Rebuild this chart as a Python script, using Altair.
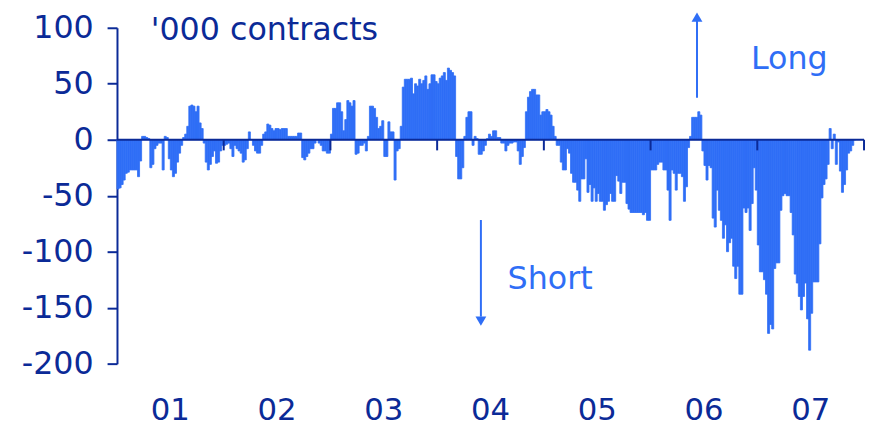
import altair as alt
import pandas as pd

BAR = "#2F6EF6"
NAVY = "#0B2A97"
FONT = "DejaVu Sans"
FS = 32

years = [2001, 2002, 2003, 2004, 2005, 2006, 2007]

y2001 = [-44, -43, -40, -36, -30, -29, -27, -27, -27, -27, -33, -19, 3, 3, 2, 1, -25, -22, -8, -5,
         -3, -3, -27, 3, 2, -17, -27, -33, -30, -20, -12, -5, 2, 5, 12, 30, 31, 30, 25, 30,
         15, 10, -3, -20, -27, -22, -15, -10, -21, -20, -10, -5]
y2002 = [-5, -4, -3, -8, -15, -5, -8, -10, -12, -20, -18, -8, 7, 0, -5, -10, -12, -12, -5, 5,
         7, 14, 13, 10, 8, 10, 10, 9, 10, 10, 10, 3, 3, 3, 3, 3, 6, 6, -16, -18,
         -15, -12, -8, -8, -3, 0, -3, -5, -10, -10, -12, -12]
y2003 = [5, 28, 28, 33, 33, 25, 8, 18, 35, 33, 30, 35, -13, -12, -5, -5, -3, -10, 3, 30,
         30, 28, 20, 10, 12, 17, -15, -15, 16, 7, 7, -36, -10, -8, 12, 47, 54, 54, 54, 55,
         41, 50, 48, 54, 50, 53, 57, 45, 50, 58, 58, 52]
y2004 = [50, 55, 57, 60, 53, 64, 62, 60, 57, -15, -35, -35, -25, 3, 20, 25, 25, -5, 3, 1,
         -13, -13, -10, -5, 1, 5, 3, 8, 8, 2, 2, -3, -3, -10, -5, -3, -3, -2, -2, -10,
         -22, -15, -7, 25, 38, 43, 45, 45, 40, 40, 22, 25]
y2005 = [25, 27, 25, 22, 12, 3, -5, -5, -20, -27, -27, -8, -12, -30, -38, -38, -45, -55, -35, -35,
         -17, -47, -40, -55, -43, -55, -48, -55, -55, -63, -58, -55, -48, -55, -55, -32, -37, -48, -38, -38,
         -57, -62, -65, -65, -65, -65, -65, -65, -67, -65, -72, -72]
y2006 = [-27, -27, -27, -22, -20, -20, -27, -27, -45, -72, -27, -30, -45, -30, -30, -33, -55, -42, -7, 3,
         20, 20, 20, 25, 22, -10, -23, -36, -23, -25, -70, -78, -45, -63, -72, -88, -76, -100, -92, -88,
         -113, -124, -113, -138, -138, -61, -65, -61, -81, -57, -25, -45]
y2007 = [-94, -118, -118, -125, -138, -173, -165, -169, -115, -110, -110, -63, -50, -48, -50, -50, -65, -85, -120, -128,
         -140, -152, -140, -128, -160, -188, -155, -127, -127, -127, -93, -52, -40, -35, -22, 10, -8, 5, -22, -2,
         -28, -47, -40, -27, -12, -10, -5, 0]

series = [y2001, y2002, y2003, y2004, y2005, y2006, y2007]
year_labels = ["01", "02", "03", "04", "05", "06", "07"]
y_ticks = [-200, -150, -100, -50, 0, 50, 100]

rows = []
for yr, vals in zip(years, series):
    for i, v in enumerate(vals):
        rows.append({"t0": yr + i / 52, "t1": yr + (i + 1) / 52, "v": v, "z": 0})
df = pd.DataFrame(rows)

xs = alt.Scale(domain=[2001, 2008], nice=False, zero=False)
ys = alt.Scale(domain=[-200, 100], nice=False, zero=False)

bars = alt.Chart(df).mark_bar(color=BAR, stroke=BAR, strokeWidth=0.8).encode(
    x=alt.X("t0:Q", scale=xs, axis=None),
    x2="t1",
    y=alt.Y("v:Q", scale=ys, title=None,
            axis=alt.Axis(values=y_ticks, grid=False, domainColor=NAVY, domainWidth=2,
                          tickColor=NAVY, tickWidth=2, tickSize=10, labelColor=NAVY,
                          labelFont=FONT, labelFontSize=FS, labelPadding=14,
                          labelExpr="'' + datum.value")),
    y2="z",
)

lab_df = pd.DataFrame({"m": [y + 0.5 for y in years], "lab": year_labels})
xlabels = alt.Chart(lab_df).mark_text(color=NAVY, font=FONT, fontSize=31, baseline="middle").encode(
    x=alt.X("m:Q", scale=xs, axis=None),
    y=alt.value(387),
    text="lab:N",
)

zero = alt.Chart(pd.DataFrame({"x0": [2001], "x1": [2008], "y": [0]})).mark_rule(
    color=NAVY, strokeWidth=2).encode(x=alt.X("x0:Q", scale=xs, axis=None), x2="x1",
                                      y=alt.Y("y:Q", scale=ys, title=None))

tick_df = pd.DataFrame({"x": [2002, 2003, 2004, 2005, 2006, 2007, 2008], "a": [0] * 7, "b": [-9.5] * 7})
yticks = alt.Chart(tick_df).mark_rule(color=NAVY, strokeWidth=2).encode(
    x=alt.X("x:Q", scale=xs, axis=None), y=alt.Y("a:Q", scale=ys, title=None), y2="b")

arrow_lines = pd.DataFrame({"x": [2006.435, 2004.41], "ya": [37.4, -71.7], "yb": [106, -158]})
alines = alt.Chart(arrow_lines).mark_rule(color=BAR, strokeWidth=2).encode(
    x=alt.X("x:Q", scale=xs, axis=None), y=alt.Y("ya:Q", scale=ys, title=None), y2="yb")

heads = pd.DataFrame({"x": [2006.435, 2004.41], "y": [109.5, -162.0], "s": ["triangle-up", "triangle-down"]})
arrowheads = alt.Chart(heads).mark_point(filled=True, color=BAR, size=120, opacity=1).encode(
    x=alt.X("x:Q", scale=xs, axis=None), y=alt.Y("y:Q", scale=ys, title=None),
    shape=alt.Shape("s:N", scale=None, legend=None))

notes = pd.DataFrame({
    "x": [2001.316, 2006.94, 2004.66],
    "y": [98.2, 71.7, -124.8],
    "t": ["'000 contracts", "Long", "Short"],
    "c": [NAVY, BAR, BAR],
})
texts = alt.Chart(notes).mark_text(font=FONT, fontSize=FS, align="left", baseline="middle").encode(
    x=alt.X("x:Q", scale=xs, axis=None), y=alt.Y("y:Q", scale=ys, title=None), text="t:N",
    color=alt.Color("c:N", scale=None, legend=None))

chart = alt.layer(bars, zero, yticks, alines, arrowheads, texts, xlabels).properties(
    width=754, height=339,
    padding={"left": 110, "top": 18, "right": 2, "bottom": 64},
    autosize="none",
).configure_view(stroke=None)

chart.save("out.html", embed_options={"renderer": "svg", "actions": False})
